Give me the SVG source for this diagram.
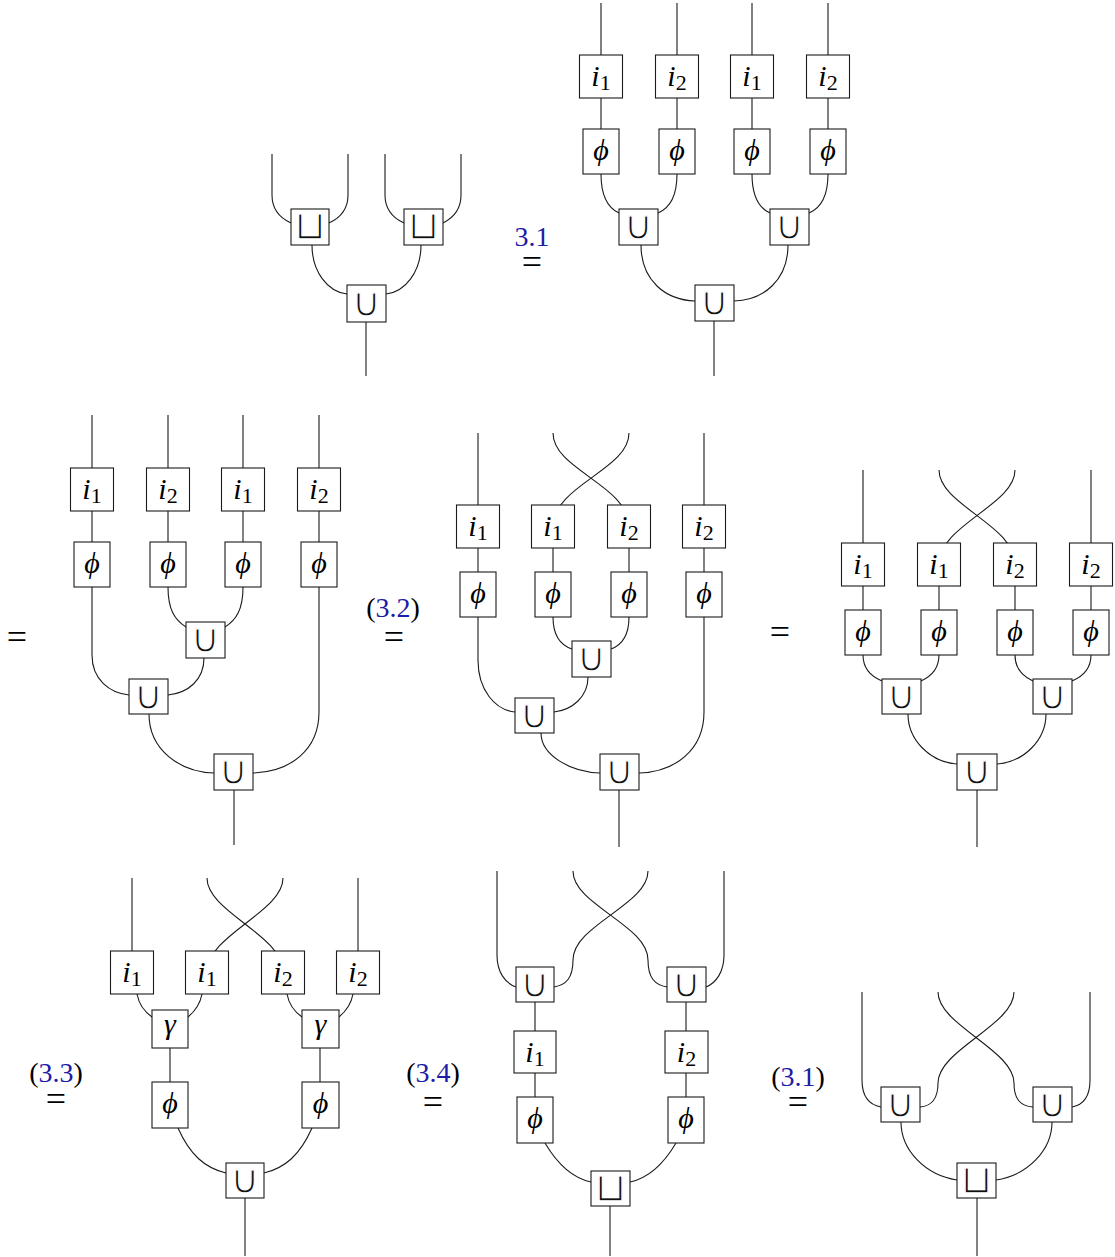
<svg xmlns="http://www.w3.org/2000/svg" width="1115" height="1257" viewBox="0 0 1115 1257">
<style>
.w{fill:none;stroke:#1a1a1a;stroke-width:1.1}
.b{fill:#fff;stroke:#1a1a1a;stroke-width:1.1}
.m{font-family:"Liberation Serif","DejaVu Serif",serif;font-style:italic;font-size:30px;text-anchor:middle;fill:#000}
.sub{font-style:normal;font-size:22px}
.op{font-family:"DejaVu Sans",sans-serif;font-size:40px;text-anchor:middle;fill:#111;stroke:#fff;stroke-width:1.3px}
.lb{font-family:"Liberation Serif",serif;font-size:28px;text-anchor:middle;fill:#000}
.eq{font-family:"Liberation Serif",serif;font-size:36px;text-anchor:middle;fill:#000}
.bl{fill:#1c1ca6}
</style>
<rect width="1115" height="1257" fill="#fff"/>
<g id="connectors" class="w">
<path d="M272,154 V195 C272,210 280,218 291,223"/>
<path d="M348,154 V195 C348,210 340,218 329,223"/>
<path d="M385,154 V195 C385,210 393,218 404,223"/>
<path d="M461,154 V195 C461,210 453,218 443,223"/>
<path d="M312,245 C312,272 328,292 347,294"/>
<path d="M421,245 C421,272 405,292 386,294"/>
<path d="M366,322 V376"/>
<path d="M601,3 V55 M601,98 V129"/>
<path d="M677,3 V55 M677,98 V129"/>
<path d="M752,3 V55 M752,98 V129"/>
<path d="M828,3 V55 M828,98 V129"/>
<path d="M601,174 C601,197 608,208 619,213"/>
<path d="M677,174 C677,197 670,208 658,213"/>
<path d="M752,174 C752,197 759,208 770,213"/>
<path d="M828,174 C828,197 821,208 809,213"/>
<path d="M641,245 C641,280 665,300 695,301"/>
<path d="M788,245 C788,280 764,300 734,301"/>
<path d="M714,321 V376"/>
<path d="M92,415 V468 M92,511 V542"/>
<path d="M168,415 V468 M168,511 V542"/>
<path d="M243,415 V468 M243,511 V542"/>
<path d="M319,415 V468 M319,511 V542"/>
<path d="M168,587 C168,610 175,620 186,627"/>
<path d="M243,587 C243,610 236,620 225,627"/>
<path d="M92,587 V655 C92,680 110,693 129,695"/>
<path d="M204,658 C204,680 188,693 168,695"/>
<path d="M149,714 C149,750 180,772 214,773"/>
<path d="M319,587 V712 C319,750 290,772 253,773"/>
<path d="M234,790 V845"/>
<path d="M478,433 V505 M478,548 V572"/>
<path d="M704,433 V505 M704,548 V572"/>
<path d="M553,433 C553,470 629,485 629,527"/>
<path d="M629,433 C629,470 553,485 553,527"/>
<path d="M553,548 V572 M629,548 V572"/>
<path d="M553,617 C553,636 560,645 572,649"/>
<path d="M629,617 C629,636 622,645 611,649"/>
<path d="M478,617 V660 C478,690 495,710 515,712"/>
<path d="M588,677 C588,697 572,710 554,712"/>
<path d="M541,733 C541,755 570,772 600,773"/>
<path d="M704,617 V712 C704,750 675,772 639,773"/>
<path d="M619,790 V847"/>
<path d="M863,470 V543 M863,586 V610"/>
<path d="M1091,470 V543 M1091,586 V610"/>
<path d="M939,470 C939,505 1015,525 1015,564"/>
<path d="M1015,470 C1015,505 939,525 939,564"/>
<path d="M939,586 V610 M1015,586 V610"/>
<path d="M863,655 C863,668 870,676 882,681"/>
<path d="M939,655 C939,668 932,676 921,681"/>
<path d="M1015,655 C1015,668 1022,676 1033,681"/>
<path d="M1091,655 C1091,668 1084,676 1072,681"/>
<path d="M908,714 C908,740 930,762 957,764"/>
<path d="M1046,714 C1046,740 1024,762 997,764"/>
<path d="M977,790 V847"/>
<path d="M132,878 V951"/>
<path d="M358,878 V951"/>
<path d="M207,878 C207,912 283,935 283,972"/>
<path d="M283,878 C283,912 207,935 207,972"/>
<path d="M137,994 C139,1005 145,1012 152,1017"/>
<path d="M202,994 C200,1005 194,1012 188,1017"/>
<path d="M287,994 C289,1005 295,1012 302,1017"/>
<path d="M353,994 C351,1005 345,1012 339,1017"/>
<path d="M170,1048 V1082 M320,1048 V1082"/>
<path d="M178,1128 C190,1155 205,1168 226,1173"/>
<path d="M312,1128 C300,1155 285,1168 264,1173"/>
<path d="M245,1198 V1256"/>
<path d="M497,871 V955 C497,972 505,983 516,987"/>
<path d="M573,871 C573,905 648,925 648,960 C648,978 655,985 667,987"/>
<path d="M648,871 C648,905 573,925 573,960 C573,978 566,985 554,987"/>
<path d="M724,871 V955 C724,972 716,983 706,987"/>
<path d="M535,1002 V1031 M686,1002 V1031"/>
<path d="M535,1073 V1097 M686,1073 V1097"/>
<path d="M545,1143 C558,1165 572,1178 591,1182"/>
<path d="M676,1143 C663,1165 649,1178 630,1182"/>
<path d="M610,1206 V1256"/>
<path d="M862,992 V1080 C862,1097 870,1105 881,1107"/>
<path d="M938,992 C938,1025 1014,1050 1014,1083 C1014,1100 1021,1106 1033,1107"/>
<path d="M1014,992 C1014,1025 938,1050 938,1083 C938,1100 931,1106 920,1107"/>
<path d="M1090,992 V1080 C1090,1097 1083,1105 1072,1107"/>
<path d="M901,1122 C901,1150 925,1175 957,1180"/>
<path d="M1052,1122 C1052,1150 1028,1175 996,1180"/>
<path d="M977,1198 V1256"/>
</g>

<g id="A-sq1"><rect class="b" x="291" y="209" width="38" height="36"/><text class="op" x="310" y="239">⊔</text></g>
<g id="A-sq2"><rect class="b" x="404" y="209" width="39" height="36"/><text class="op" x="423.5" y="239">⊔</text></g>
<g id="A-cup"><rect class="b" x="347" y="285" width="39" height="37"/><text class="op" x="366.5" y="315.5">∪</text></g>

<g id="lbl1"><text class="lb bl" x="532" y="246">3.1</text><text class="eq" x="532" y="274">=</text></g>

<g id="B-i1"><rect class="b" x="579.5" y="55" width="43" height="43"/><text class="m" x="601" y="86">i<tspan class="sub" dy="4">1</tspan></text></g>
<g id="B-i2"><rect class="b" x="655.5" y="55" width="43" height="43"/><text class="m" x="677" y="86">i<tspan class="sub" dy="4">2</tspan></text></g>
<g id="B-i3"><rect class="b" x="730.5" y="55" width="43" height="43"/><text class="m" x="752" y="86">i<tspan class="sub" dy="4">1</tspan></text></g>
<g id="B-i4"><rect class="b" x="806.5" y="55" width="43" height="43"/><text class="m" x="828" y="86">i<tspan class="sub" dy="4">2</tspan></text></g>
<g id="B-p1"><rect class="b" x="583" y="129" width="36" height="45"/><text class="m" x="601" y="159.5">ϕ</text></g>
<g id="B-p2"><rect class="b" x="659" y="129" width="36" height="45"/><text class="m" x="677" y="159.5">ϕ</text></g>
<g id="B-p3"><rect class="b" x="734" y="129" width="36" height="45"/><text class="m" x="752" y="159.5">ϕ</text></g>
<g id="B-p4"><rect class="b" x="810" y="129" width="36" height="45"/><text class="m" x="828" y="159.5">ϕ</text></g>
<g id="B-u1"><rect class="b" x="619" y="209" width="39" height="36"/><text class="op" x="638.5" y="239">∪</text></g>
<g id="B-u2"><rect class="b" x="770" y="209" width="39" height="36"/><text class="op" x="789.5" y="239">∪</text></g>
<g id="B-u3"><rect class="b" x="695" y="285" width="39" height="36"/><text class="op" x="714.5" y="315">∪</text></g>

<g id="lblC"><text class="eq" x="17" y="649">=</text></g>
<g id="C-i1"><rect class="b" x="70.5" y="468" width="43" height="43"/><text class="m" x="92" y="499">i<tspan class="sub" dy="4">1</tspan></text></g>
<g id="C-i2"><rect class="b" x="146.5" y="468" width="43" height="43"/><text class="m" x="168" y="499">i<tspan class="sub" dy="4">2</tspan></text></g>
<g id="C-i3"><rect class="b" x="221.5" y="468" width="43" height="43"/><text class="m" x="243" y="499">i<tspan class="sub" dy="4">1</tspan></text></g>
<g id="C-i4"><rect class="b" x="297.5" y="468" width="43" height="43"/><text class="m" x="319" y="499">i<tspan class="sub" dy="4">2</tspan></text></g>
<g id="C-p1"><rect class="b" x="74" y="542" width="36" height="45"/><text class="m" x="92" y="572.5">ϕ</text></g>
<g id="C-p2"><rect class="b" x="150" y="542" width="36" height="45"/><text class="m" x="168" y="572.5">ϕ</text></g>
<g id="C-p3"><rect class="b" x="225" y="542" width="36" height="45"/><text class="m" x="243" y="572.5">ϕ</text></g>
<g id="C-p4"><rect class="b" x="301" y="542" width="36" height="45"/><text class="m" x="319" y="572.5">ϕ</text></g>
<g id="C-u1"><rect class="b" x="186" y="622" width="39" height="36"/><text class="op" x="205.5" y="652">∪</text></g>
<g id="C-u2"><rect class="b" x="129" y="679" width="39" height="35"/><text class="op" x="148.5" y="708.5">∪</text></g>
<g id="C-u3"><rect class="b" x="214" y="754" width="39" height="36"/><text class="op" x="233.5" y="784">∪</text></g>

<g id="lblD"><text class="lb" x="393" y="617">(<tspan class="bl">3.2</tspan>)</text><text class="eq" x="394" y="649">=</text></g>
<g id="D-i1"><rect class="b" x="456.5" y="505" width="43" height="43"/><text class="m" x="478" y="536">i<tspan class="sub" dy="4">1</tspan></text></g>
<g id="D-i2"><rect class="b" x="531.5" y="505" width="43" height="43"/><text class="m" x="553" y="536">i<tspan class="sub" dy="4">1</tspan></text></g>
<g id="D-i3"><rect class="b" x="607.5" y="505" width="43" height="43"/><text class="m" x="629" y="536">i<tspan class="sub" dy="4">2</tspan></text></g>
<g id="D-i4"><rect class="b" x="682.5" y="505" width="43" height="43"/><text class="m" x="704" y="536">i<tspan class="sub" dy="4">2</tspan></text></g>
<g id="D-p1"><rect class="b" x="460" y="572" width="36" height="45"/><text class="m" x="478" y="602.5">ϕ</text></g>
<g id="D-p2"><rect class="b" x="535" y="572" width="36" height="45"/><text class="m" x="553" y="602.5">ϕ</text></g>
<g id="D-p3"><rect class="b" x="611" y="572" width="36" height="45"/><text class="m" x="629" y="602.5">ϕ</text></g>
<g id="D-p4"><rect class="b" x="686" y="572" width="36" height="45"/><text class="m" x="704" y="602.5">ϕ</text></g>
<g id="D-u1"><rect class="b" x="572" y="641" width="39" height="36"/><text class="op" x="591.5" y="671">∪</text></g>
<g id="D-u2"><rect class="b" x="515" y="698" width="39" height="35"/><text class="op" x="534.5" y="727.5">∪</text></g>
<g id="D-u3"><rect class="b" x="600" y="754" width="39" height="36"/><text class="op" x="619.5" y="784">∪</text></g>

<g id="lblE"><text class="eq" x="780" y="644">=</text></g>
<g id="E-i1"><rect class="b" x="841.5" y="543" width="43" height="43"/><text class="m" x="863" y="574">i<tspan class="sub" dy="4">1</tspan></text></g>
<g id="E-i2"><rect class="b" x="917.5" y="543" width="43" height="43"/><text class="m" x="939" y="574">i<tspan class="sub" dy="4">1</tspan></text></g>
<g id="E-i3"><rect class="b" x="993.5" y="543" width="43" height="43"/><text class="m" x="1015" y="574">i<tspan class="sub" dy="4">2</tspan></text></g>
<g id="E-i4"><rect class="b" x="1069.5" y="543" width="43" height="43"/><text class="m" x="1091" y="574">i<tspan class="sub" dy="4">2</tspan></text></g>
<g id="E-p1"><rect class="b" x="845" y="610" width="36" height="45"/><text class="m" x="863" y="640.5">ϕ</text></g>
<g id="E-p2"><rect class="b" x="921" y="610" width="36" height="45"/><text class="m" x="939" y="640.5">ϕ</text></g>
<g id="E-p3"><rect class="b" x="997" y="610" width="36" height="45"/><text class="m" x="1015" y="640.5">ϕ</text></g>
<g id="E-p4"><rect class="b" x="1073" y="610" width="36" height="45"/><text class="m" x="1091" y="640.5">ϕ</text></g>
<g id="E-u1"><rect class="b" x="882" y="679" width="39" height="35"/><text class="op" x="901.5" y="708.5">∪</text></g>
<g id="E-u2"><rect class="b" x="1033" y="679" width="39" height="35"/><text class="op" x="1052.5" y="708.5">∪</text></g>
<g id="E-u3"><rect class="b" x="957" y="754" width="40" height="36"/><text class="op" x="977" y="784">∪</text></g>

<g id="lblF"><text class="lb" x="56" y="1082">(<tspan class="bl">3.3</tspan>)</text><text class="eq" x="56" y="1111">=</text></g>
<g id="F-i1"><rect class="b" x="110.5" y="951" width="43" height="43"/><text class="m" x="132" y="982">i<tspan class="sub" dy="4">1</tspan></text></g>
<g id="F-i2"><rect class="b" x="185.5" y="951" width="43" height="43"/><text class="m" x="207" y="982">i<tspan class="sub" dy="4">1</tspan></text></g>
<g id="F-i3"><rect class="b" x="261.5" y="951" width="43" height="43"/><text class="m" x="283" y="982">i<tspan class="sub" dy="4">2</tspan></text></g>
<g id="F-i4"><rect class="b" x="336.5" y="951" width="43" height="43"/><text class="m" x="358" y="982">i<tspan class="sub" dy="4">2</tspan></text></g>
<g id="F-g1"><rect class="b" x="152" y="1010" width="36" height="38"/><text class="m" x="170" y="1033.5">γ</text></g>
<g id="F-g2"><rect class="b" x="302" y="1010" width="37" height="38"/><text class="m" x="320.5" y="1033.5">γ</text></g>
<g id="F-p1"><rect class="b" x="152" y="1082" width="36" height="46"/><text class="m" x="170" y="1113">ϕ</text></g>
<g id="F-p2"><rect class="b" x="302" y="1082" width="37" height="46"/><text class="m" x="320.5" y="1113">ϕ</text></g>
<g id="F-u1"><rect class="b" x="226" y="1163" width="38" height="35"/><text class="op" x="245" y="1192.5">∪</text></g>

<g id="lblG"><text class="lb" x="433" y="1082">(<tspan class="bl">3.4</tspan>)</text><text class="eq" x="433" y="1114">=</text></g>
<g id="G-u1"><rect class="b" x="516" y="967" width="38" height="35"/><text class="op" x="535" y="996.5">∪</text></g>
<g id="G-u2"><rect class="b" x="667" y="967" width="39" height="35"/><text class="op" x="686.5" y="996.5">∪</text></g>
<g id="G-i1"><rect class="b" x="514" y="1031" width="42" height="42"/><text class="m" x="535" y="1061.5">i<tspan class="sub" dy="4">1</tspan></text></g>
<g id="G-i2"><rect class="b" x="665" y="1031" width="43" height="42"/><text class="m" x="686.5" y="1061.5">i<tspan class="sub" dy="4">2</tspan></text></g>
<g id="G-p1"><rect class="b" x="517" y="1097" width="36" height="46"/><text class="m" x="535" y="1128">ϕ</text></g>
<g id="G-p2"><rect class="b" x="668" y="1097" width="36" height="46"/><text class="m" x="686" y="1128">ϕ</text></g>
<g id="G-s1"><rect class="b" x="591" y="1171" width="39" height="35"/><text class="op" x="610.5" y="1200.5">⊔</text></g>

<g id="lblH"><text class="lb" x="798" y="1086">(<tspan class="bl">3.1</tspan>)</text><text class="eq" x="798" y="1114">=</text></g>
<g id="H-u1"><rect class="b" x="881" y="1087" width="39" height="35"/><text class="op" x="900.5" y="1116.5">∪</text></g>
<g id="H-u2"><rect class="b" x="1033" y="1087" width="39" height="35"/><text class="op" x="1052.5" y="1116.5">∪</text></g>
<g id="H-s1"><rect class="b" x="957" y="1163" width="39" height="35"/><text class="op" x="976.5" y="1192.5">⊔</text></g>
</svg>
